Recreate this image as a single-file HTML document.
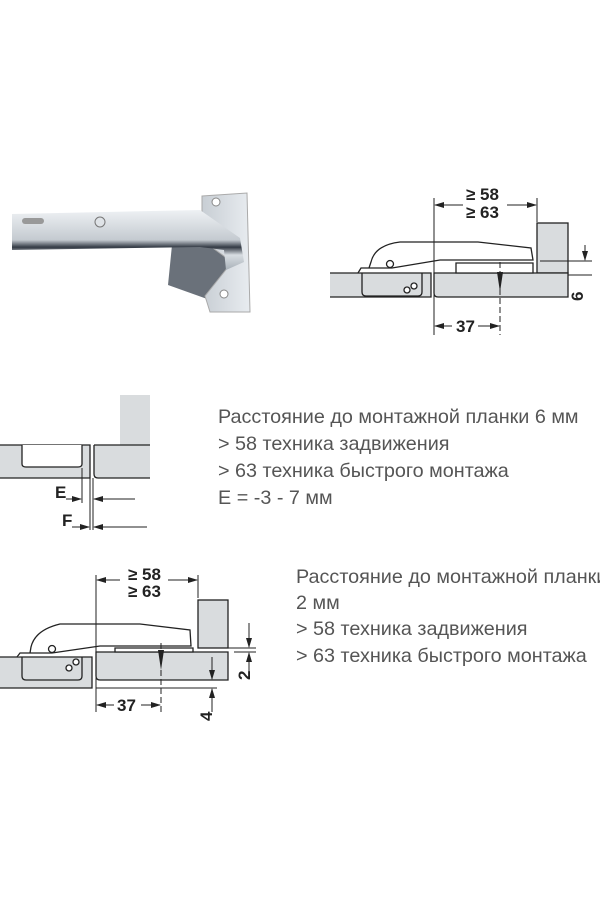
<!DOCTYPE html>
<html><head><meta charset="utf-8"><style>
body{margin:0;background:#fff;}
svg{display:block}
.t{font-family:"Liberation Sans",sans-serif;font-size:19.8px;fill:#555}
.d{font-family:"Liberation Sans",sans-serif;font-size:17px;font-weight:bold;fill:#222}
</style></head><body>
<svg width="600" height="900" viewBox="0 0 600 900">
<defs>
<linearGradient id="m" x1="0" y1="0" x2="0" y2="1"><stop offset="0" stop-color="#eef1f4"/><stop offset="0.5" stop-color="#c4cad0"/><stop offset="0.62" stop-color="#333a44"/><stop offset="0.75" stop-color="#d8dde2"/><stop offset="1" stop-color="#a8b0b8"/></linearGradient>
<linearGradient id="p" x1="0" y1="0" x2="1" y2="0"><stop offset="0" stop-color="#c8ced4"/><stop offset="1" stop-color="#e8ecf0"/></linearGradient>
<marker id="a" markerWidth="10" markerHeight="6" refX="9" refY="3" orient="auto" markerUnits="userSpaceOnUse"><path d="M0,0 L10,3 L0,6z" fill="#222"/></marker>
</defs>
<!-- photo -->
<path d="M172,245 L235,245 L235,300 L210,300 L168,285z" fill="#6a717a"/>
<path d="M202,196 L247,193 L250,312 L210,312 L205,296 L232,262 L202,240z" fill="url(#p)" stroke="#aaa" stroke-width="1"/>
<path d="M12,214 L200,210 L240,238 L244,262 L226,270 L224,250 L200,247 L12,250z" fill="url(#m)"/>
<circle cx="216" cy="202" r="4" fill="#fff" stroke="#888"/>
<circle cx="224" cy="294" r="4" fill="#fff" stroke="#888"/>
<circle cx="100" cy="222" r="5" fill="#dfe3e7" stroke="#777"/>
<rect x="22" y="218" width="22" height="6" rx="3" fill="#999"/>
<!-- top right diagram -->
<g stroke="#222" stroke-width="1.3" fill="#d9dcde">
<rect x="537" y="223" width="31" height="50" fill="#d9dcde"/>
<path d="M330,273 L431,273 L431,297 L330,297" />
<path d="M434,273 L568,273 L568,297 L438,297 Q434,297 434,293z"/>
<path d="M362,273 L362,292 Q362,296 366,296 L418,296 Q422,296 422,292 L422,273" fill="none"/>
<path d="M456,263 L533,263 L533,273 L456,273z" fill="#fff"/>
<path d="M358,273 L361,268 L392,268 L440,260 L533,260 L531,248 L478,242 L400,242 Q375,245 371,262 L369,268" fill="#fff"/>
<circle cx="390" cy="264" r="3.5" fill="#fff"/><circle cx="414" cy="286" r="3" fill="#fff"/><circle cx="407" cy="290" r="3" fill="#fff"/>
</g>
<g stroke="#222" stroke-width="1" fill="none">
<line x1="434" y1="198" x2="434" y2="335"/><line x1="537" y1="198" x2="537" y2="222"/>
<line x1="463" y1="205" x2="435" y2="205" marker-end="url(#a)"/><line x1="507" y1="205" x2="536" y2="205" marker-end="url(#a)"/>
<line x1="500" y1="262" x2="500" y2="335" stroke-dasharray="6,3"/>
<line x1="452" y1="326" x2="435" y2="326" marker-end="url(#a)"/><line x1="478" y1="326" x2="499" y2="326" marker-end="url(#a)"/>
<line x1="540" y1="261" x2="592" y2="261"/><line x1="568" y1="275" x2="592" y2="275"/>
<line x1="585" y1="245" x2="585" y2="260" marker-end="url(#a)"/>
</g>
<path d="M497,272 L503,272 L500,292z" fill="#222"/>
<text class="d" x="466" y="200">≥ 58</text><text class="d" x="466" y="218">≥ 63</text>
<text class="d" x="456" y="332">37</text>
<text class="d" transform="translate(583,301) rotate(-90)">6</text>
<!-- middle -->
<rect x="120" y="395" width="30" height="50" fill="#d9dcde"/>
<rect x="0" y="445" width="90" height="33" fill="#d9dcde"/>
<rect x="94" y="445" width="56" height="33" fill="#d9dcde"/>
<g stroke="#222" stroke-width="1.3" fill="none">
<path d="M0,445 L90,445 L90,478 L0,478"/>
<path d="M94,445 L150,445 M150,478 L98,478 Q94,478 94,474 L94,445"/>
<path d="M22,445 L22,464 Q22,467 26,467 L78,467 Q82,467 82,464 L82,445" fill="#fff"/>
</g>
<g stroke="#222" stroke-width="1" fill="none">
<line x1="82" y1="468" x2="82" y2="503"/><line x1="90" y1="478" x2="90" y2="530"/><line x1="93" y1="478" x2="93" y2="530"/>
<line x1="66" y1="499" x2="81" y2="499" marker-end="url(#a)"/><line x1="135" y1="499" x2="94" y2="499" marker-end="url(#a)"/>
<line x1="72" y1="527" x2="89" y2="527" marker-end="url(#a)"/><line x1="147" y1="527" x2="94" y2="527" marker-end="url(#a)"/>
</g>
<text class="d" x="55" y="498">E</text><text class="d" x="62" y="526">F</text>
<text class="t" x="218" y="423">Расстояние до монтажной планки 6 мм</text>
<text class="t" x="218" y="450">&gt; 58 техника задвижения</text>
<text class="t" x="218" y="477">&gt; 63 техника быстрого монтажа</text>
<text class="t" x="218" y="504">E = -3 - 7 мм</text>
<!-- bottom -->
<g stroke="#222" stroke-width="1.3" fill="#d9dcde">
<rect x="198" y="600" width="30" height="48"/>
<path d="M0,657 L92,657 L92,688 L0,688"/>
<path d="M96,652 L228,652 L228,680 L100,680 Q96,680 96,676z"/>
<path d="M22,657 L22,676 Q22,680 26,680 L78,680 Q82,680 82,676 L82,657" fill="none"/>
<path d="M115,648 L193,648 L193,652 L115,652z" fill="#fff"/>
<path d="M17,657 L20,653 L52,653 L100,646 L191,646 L190,630 L140,624 L60,624 Q35,630 31,647 L30,653" fill="#fff"/>
<circle cx="52" cy="649" r="3.5" fill="#fff"/><circle cx="76" cy="662" r="3" fill="#fff"/><circle cx="69" cy="668" r="3" fill="#fff"/>
</g>
<g stroke="#222" stroke-width="1" fill="none">
<line x1="96" y1="575" x2="96" y2="712"/><line x1="198" y1="575" x2="198" y2="598"/>
<line x1="120" y1="580" x2="97" y2="580" marker-end="url(#a)"/><line x1="168" y1="580" x2="197" y2="580" marker-end="url(#a)"/>
<line x1="161" y1="643" x2="161" y2="712" stroke-dasharray="6,3"/>
<line x1="114" y1="705" x2="97" y2="705" marker-end="url(#a)"/><line x1="141" y1="705" x2="160" y2="705" marker-end="url(#a)"/>
<line x1="202" y1="648" x2="256" y2="648"/><line x1="234" y1="652" x2="256" y2="652"/>
<line x1="249" y1="623" x2="249" y2="647" marker-end="url(#a)"/><line x1="249" y1="672" x2="249" y2="653" marker-end="url(#a)"/>
<line x1="212" y1="657" x2="212" y2="679" marker-end="url(#a)"/>
<line x1="96" y1="688" x2="217" y2="688"/>
<line x1="212" y1="712" x2="212" y2="689" marker-end="url(#a)"/>
</g>
<path d="M158,650 L164,650 L161,670z" fill="#222"/>
<text class="d" x="128" y="580">≥ 58</text><text class="d" x="128" y="597">≥ 63</text>
<text class="d" x="117" y="711">37</text>
<text class="d" transform="translate(250,680) rotate(-90)">2</text>
<text class="d" transform="translate(212,721) rotate(-90)">4</text>
<text class="t" x="296" y="583">Расстояние до монтажной планки</text>
<text class="t" x="296" y="609">2 мм</text>
<text class="t" x="296" y="635">&gt; 58 техника задвижения</text>
<text class="t" x="296" y="662">&gt; 63 техника быстрого монтажа</text>
</svg>
</body></html>
